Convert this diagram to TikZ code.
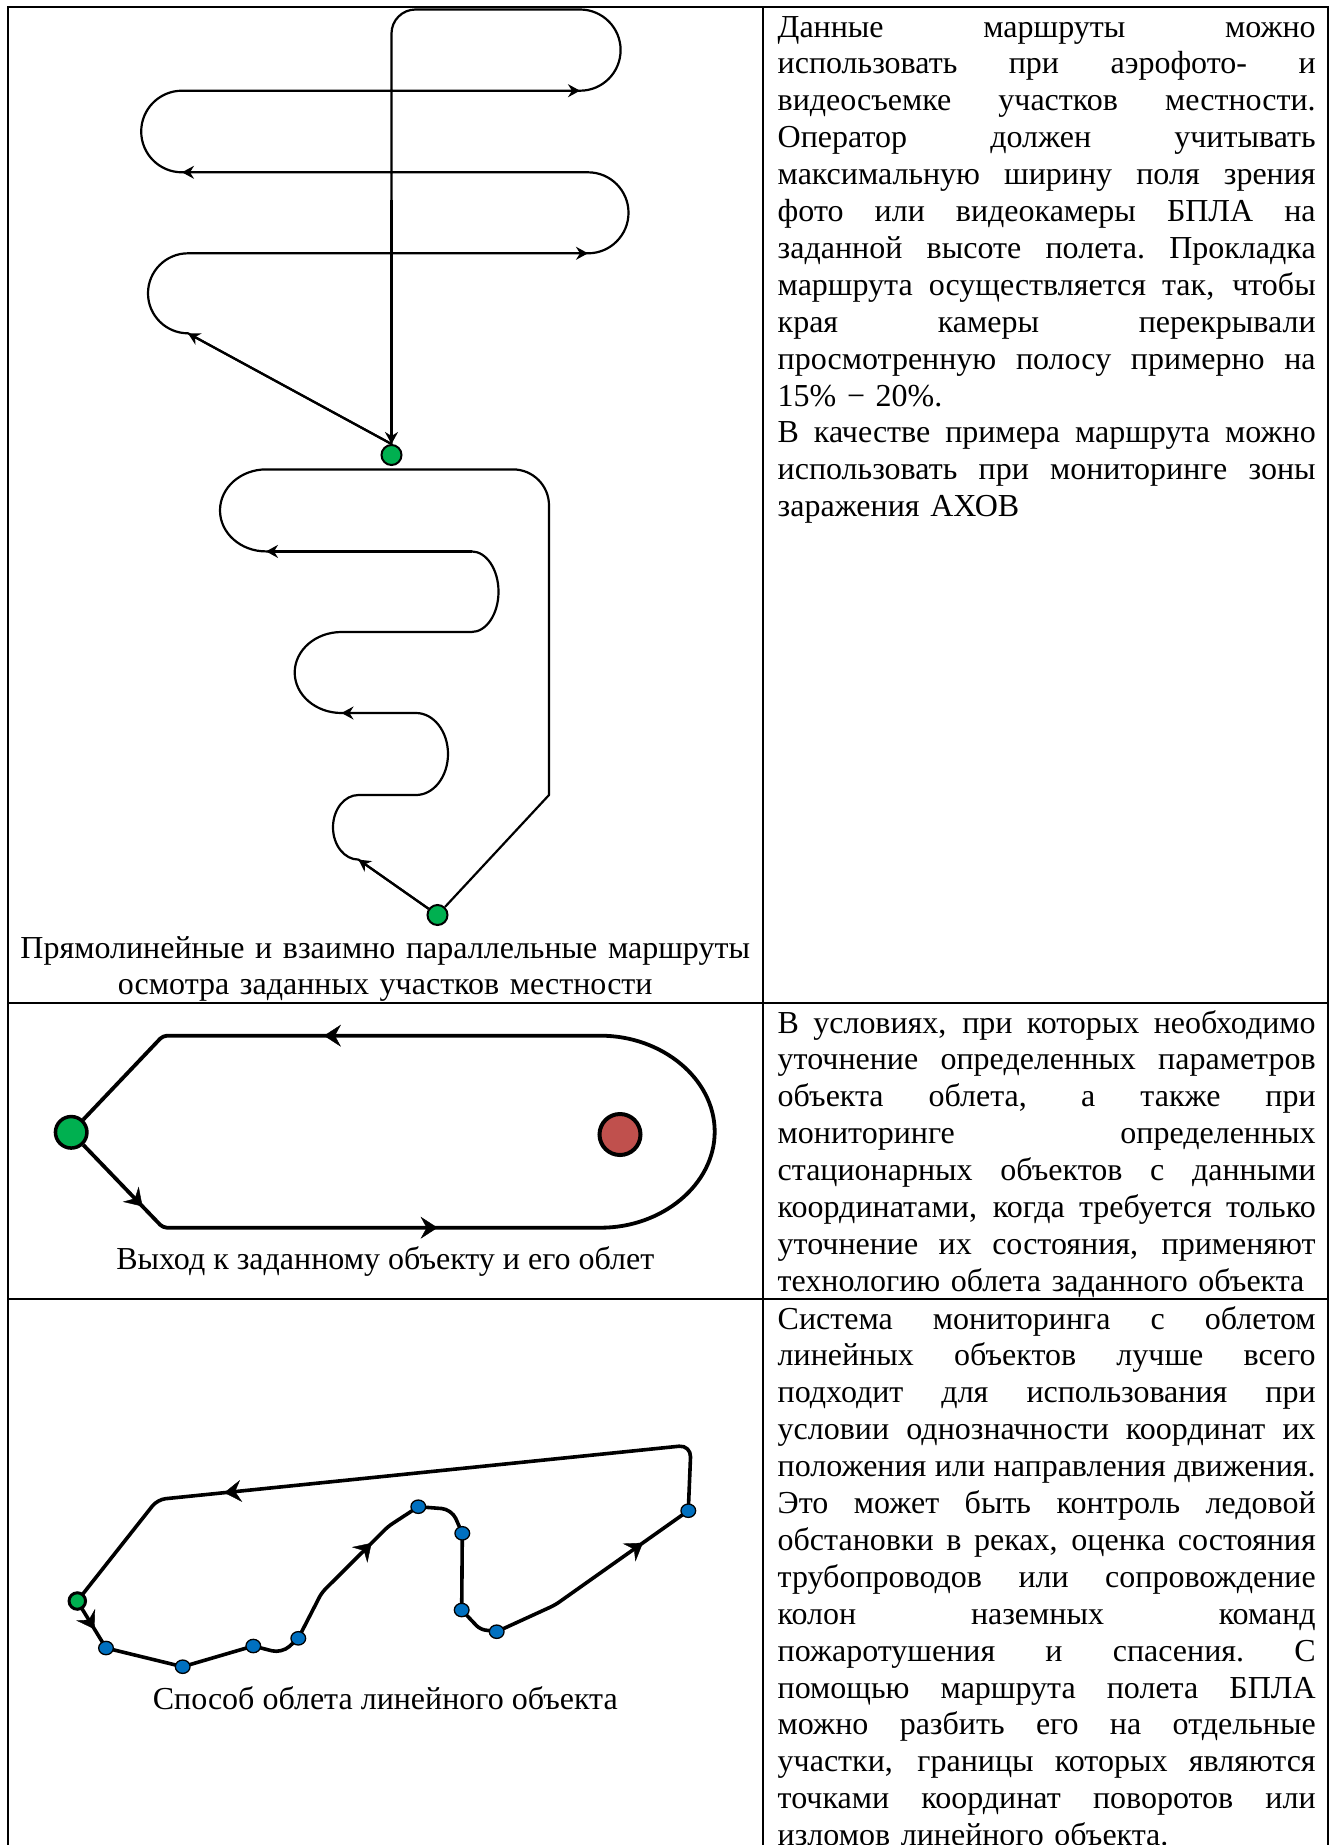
\documentclass[tikz,border=0pt]{standalone}
\usepackage{fontspec}
\setmainfont{Liberation Serif}
\usetikzlibrary{arrows.meta,decorations.markings,shapes.geometric}
\pgfdeclarelayer{background}
\pgfsetlayers{background,main}
\definecolor{dotgreen}{HTML}{00B050}
\definecolor{objred}{HTML}{C0504D}
\definecolor{dotblue}{HTML}{0070C0}
% one justified line of a text cell, and one line set at its natural width
\newcommand\jline[1]{\hbox to 538pt{\spaceskip=\fontdimen2\font plus 1fil minus 2pt\relax\xspaceskip=\spaceskip #1}}
\newcommand\lline[1]{\hbox{#1}}

\begin{document}
\begin{tikzpicture}[x=1pt,y=-1pt,
  font=\fontsize{32}{36.9}\selectfont,
  rule/.style={line width=2pt},
  r1/.style={line width=2.2pt, line join=round},
  r2/.style={line width=3.8pt, line join=round},
  r3/.style={line width=3.6pt, line join=round},
  tip1/.style={-{Stealth[length=12pt,width=13pt,inset=4pt]}},
  arrowat/.style={decoration={markings, mark=at position #1 with {\arrow{Stealth[length=17pt,width=22pt,inset=6pt]}}}, decorate},
  gdotA/.style={circle, draw=black, fill=dotgreen, inner sep=0pt, minimum size=20pt, line width=2pt},
  gdotB/.style={circle, draw=black, fill=dotgreen, inner sep=0pt, minimum size=31.5pt, line width=3.5pt},
  gdotC/.style={circle, draw=black, fill=dotgreen, inner sep=0pt, minimum size=16.5pt, line width=3pt},
  rdot/.style={circle, draw=black, fill=objred, inner sep=0pt, minimum size=41pt, line width=4pt},
  bdot/.style={ellipse, draw=black, fill=dotblue, inner sep=0pt, minimum width=14.7pt, minimum height=13.4pt, line width=1.3pt},
  celltext/.style={anchor=base west, text width=538pt, inner sep=0pt, align=left},
  caption/.style={anchor=base, inner sep=0pt}
]
\begin{pgfonlayer}{background}
\fill[white] (0,0) rectangle (1341,1845);
\end{pgfonlayer}
\useasboundingbox (0,0) rectangle (1341,1845);

% table frame
\draw[rule] (8,1845) -- (8,7) -- (1327.5,7) -- (1327.5,1845);
\draw[rule] (762.5,7) -- (762.5,1845);
\draw[rule] (8,1002.5) -- (1327.5,1002.5);
\draw[rule] (8,1298.5) -- (1327.5,1298.5);

% ---------- row 1: parallel survey routes ----------
\node[gdotA] (g1) at (391.5,455) {};
\node[gdotA] (g2) at (437.5,915) {};

\coordinate (u1) at (188,333.3);
\coordinate (u2) at (188,253.3);
\coordinate (u3) at (588,253.3);
\coordinate (u4) at (588,172.3);
\coordinate (u5) at (182,172.3);
\coordinate (u6) at (182,90.7);
\coordinate (u7) at (580,90.7);
\coordinate (u9) at (391.5,9.5);
\coordinate (u10) at (391.5,200);

\coordinate (v1) at (358.5,859.6);
\coordinate (v3) at (416,795);
\coordinate (v4) at (416,713);
\coordinate (v5) at (341.5,713);
\coordinate (v7) at (471.5,632);
\coordinate (v8) at (471.5,551.4);
\coordinate (v9) at (266,551.4);
\coordinate (v11) at (549,469.4);
\coordinate (v12) at (549,795);

\begin{pgfonlayer}{background}
\draw[r1] (g1.north) -- (u1)
  arc[start angle=90, end angle=270, radius=40]
  -- (u3) arc[start angle=90, end angle=-90, radius=40.5]
  -- (u5) arc[start angle=90, end angle=270, radius=40.8]
  -- (u7) arc[start angle=90, end angle=-90, radius=40.6]
  [rounded corners=24] -- (u9) [sharp corners] -- (g1.north);
\draw[r1, tip1] (g1.north) -- (u1);
\draw[r1, tip1] (u2) -- (u3);
\draw[r1, tip1] (u4) -- (u5);
\draw[r1, tip1] (u6) -- (u7);
\draw[r1, tip1] (u10) -- (g1.north);

\draw[r1] (g2) -- (v1)
  arc[start angle=90, end angle=270, x radius=25.5, y radius=32.3]
  -- (v3) arc[start angle=90, end angle=-90, x radius=32, y radius=41]
  -- (v5) arc[start angle=90, end angle=270, x radius=46.8, y radius=40.5]
  -- (v7) arc[start angle=90, end angle=-90, x radius=27, y radius=40.3]
  -- (v9) arc[start angle=90, end angle=270, x radius=46, y radius=41]
  [rounded corners=36] -- (v11) [sharp corners] -- (v12) -- (g2);
\draw[r1, tip1] (g2) -- (v1);
\draw[r1, tip1] (v4) -- (v5);
\draw[r1, tip1] (v8) -- (v9);
\end{pgfonlayer}

\node[caption, text width=740pt, align=center] (capA) at (385.25,958)
  {Прямолинейные и взаимно параллельные маршруты\\осмотра заданных участков местности};

% ---------- row 2: orbit around a given object ----------
\node[gdotB] (gA) at (71.2,1132.3) {};
\node[rdot] (obj) at (620,1134.5) {};
\coordinate (c1) at (163,1227.7);
\coordinate (c2) at (596.8,1227.7);
\coordinate (c3) at (596.8,1035.7);
\coordinate (c4) at (163,1035.7);
\begin{pgfonlayer}{background}
\draw[r2, rounded corners=4] (gA) -- (c1) -- (c2)
  arc[start angle=90, end angle=-90, x radius=117.9, y radius=96]
  -- (c4) -- (gA);
\path[arrowat=0.78] (gA.center) -- (c1);
\path[arrowat=0.633] (c1) -- (c2);
\path[arrowat=0.629] (c3) -- (c4);
\end{pgfonlayer}
\node[caption] (capB) at (385.25,1269.3) {Выход к заданному объекту и его облет};

% ---------- row 3: flight along a linear object ----------
\node[gdotC] (g3) at (77.3,1601) {};
\node[bdot] (b1) at (106,1648) {};
\node[bdot] (b2) at (182.7,1666.7) {};
\node[bdot] (b3) at (253.3,1646) {};
\node[bdot] (b4) at (298.3,1638.3) {};
\node[bdot] (b5) at (418.3,1506.7) {};
\node[bdot] (b6) at (462.3,1533.3) {};
\node[bdot] (b7) at (461.7,1610) {};
\node[bdot] (b8) at (496.7,1631.7) {};
\node[bdot] (b9) at (688.3,1510.7) {};
\coordinate (k1) at (281.7,1653.3);
\coordinate (k2) at (321.7,1592.7);
\coordinate (k3) at (388.3,1526.3);
\coordinate (k4) at (451.7,1509.3);
\coordinate (k5) at (480,1629.3);
\coordinate (k6) at (555,1605);
\coordinate (k7) at (691,1445);
\coordinate (k8) at (157.5,1499.5);
\begin{pgfonlayer}{background}
\draw[r3, rounded corners=5] (g3.center) -- (b1.center) -- (b2.center) -- (b3.center)
  [rounded corners=10] -- (k1) [rounded corners=5] -- (b4.center) -- (k2) -- (k3)
  -- (b5.center) [rounded corners=10] -- (k4) [rounded corners=5] -- (b6.center)
  -- (b7.center) -- (k5) -- (b8.center) -- (k6) -- (b9.center)
  [rounded corners=12] -- (k7) [rounded corners=8] -- (k8) -- (g3.center);
\path[arrowat=0.6] (g3.center) -- (b1.center);
\path[arrowat=0.75] (k2) -- (k3);
\path[arrowat=0.66] (k6) -- (b9.center);
\path[arrowat=0.875] (k7) -- (k8);
\end{pgfonlayer}
\node[caption] (capC) at (385.25,1709.5) {Способ облета линейного объекта};

% ---------- right column texts ----------
\node[celltext] (txtA) at (777.5,37) {%
\jline{Данные маршруты можно}
\jline{использовать при аэрофото- и}
\jline{видеосъемке участков местности.}
\jline{Оператор должен учитывать}
\jline{максимальную ширину поля зрения}
\jline{фото или видеокамеры БПЛА на}
\jline{заданной высоте полета. Прокладка}
\jline{маршрута осуществляется так, чтобы}
\jline{края камеры перекрывали}
\jline{просмотренную полосу примерно на}
\lline{15\% − 20\%.}
\jline{В качестве примера маршрута можно}
\jline{использовать при мониторинге зоны}
\lline{заражения АХОВ}};

\node[celltext] (txtB) at (777.5,1033) {%
\jline{В условиях, при которых необходимо}
\jline{уточнение определенных параметров}
\jline{объекта облета, а также при}
\jline{мониторинге определенных}
\jline{стационарных объектов с данными}
\jline{координатами, когда требуется только}
\jline{уточнение их состояния, применяют}
\lline{технологию облета заданного объекта}};

\node[celltext] (txtC) at (777.5,1329) {%
\jline{Система мониторинга с облетом}
\jline{линейных объектов лучше всего}
\jline{подходит для использования при}
\jline{условии однозначности координат их}
\jline{положения или направления движения.}
\jline{Это может быть контроль ледовой}
\jline{обстановки в реках, оценка состояния}
\jline{трубопроводов или сопровождение}
\jline{колон наземных команд}
\jline{пожаротушения и спасения. С}
\jline{помощью маршрута полета БПЛА}
\jline{можно разбить его на отдельные}
\jline{участки, границы которых являются}
\jline{точками координат поворотов или}
\lline{изломов линейного объекта.}};
\end{tikzpicture}
\end{document}
